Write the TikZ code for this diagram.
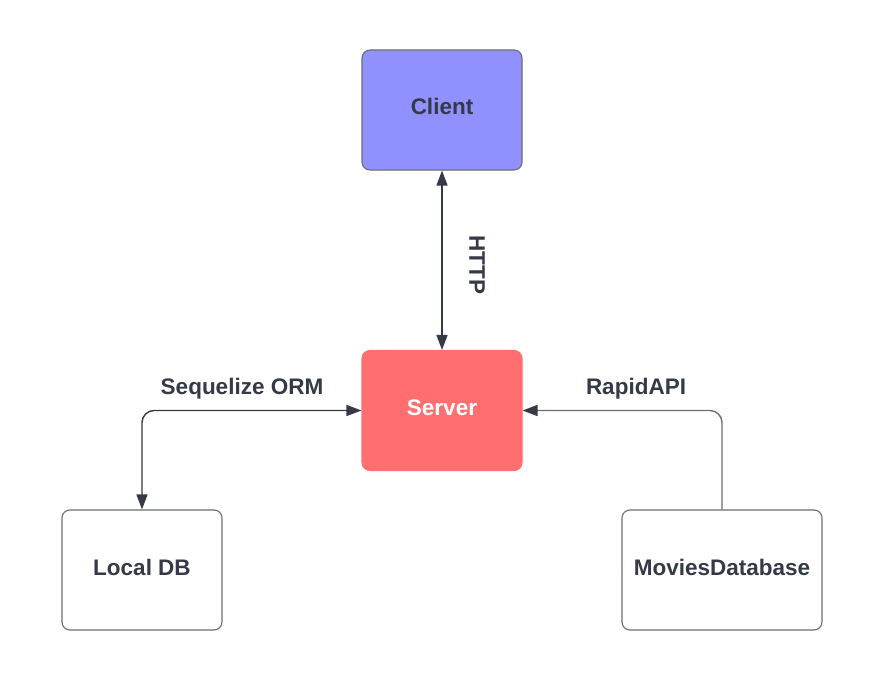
\documentclass[tikz,border=0pt]{standalone}
\usepackage{fontspec}
\setmainfont{Liberation Sans}
\usetikzlibrary{arrows.meta}
\definecolor{ink}{HTML}{343A46}
\definecolor{edge}{HTML}{6A6E78}
\definecolor{clientfill}{HTML}{9090FF}
\definecolor{serverfill}{HTML}{FF6F6F}
\begin{document}
\begin{tikzpicture}[x=1pt,y=-1pt,
  tip/.tip={Triangle[length=15pt,width=11pt,color=ink]},
  box/.style={draw=edge, line width=1.1pt, rounded corners=8pt,
    minimum width=160pt, minimum height=120pt, inner sep=0pt,
    font=\fontsize{22.5}{27}\selectfont\bfseries, text=ink},
  boxlabel/.style={font=\fontsize{22.5}{27}\selectfont\bfseries, text=ink, inner sep=0pt},
  link/.style={draw=ink, line width=1.4pt, arrows={tip-tip}},
  onelink/.style={draw=edge, line width=1.4pt, -tip},
  tag/.style={font=\fontsize{22.5}{27}\selectfont\bfseries, text=ink, inner sep=0pt}]
  \useasboundingbox (0,0) rectangle (878,685);
  \fill[white] (0,0) rectangle (878,685);

  % the four boxes, labels placed a little above centre
  \node[box, fill=clientfill] (client) at (442,110) {};
  \node[boxlabel] (clientlabel) at (442,106.5) {Client};
  \node[box, fill=serverfill, draw=serverfill] (server) at (442,410.5) {};
  \node[boxlabel, text=white] (serverlabel) at (442,407.5) {Server};
  \node[box, fill=white] (local) at (142,570) {};
  \node[boxlabel] (locallabel) at (142,567) {Local DB};
  \node[box, fill=white, minimum width=200pt] (movies) at (722,570) {};
  \node[boxlabel] (movieslabel) at (722,567) {MoviesDatabase};

  % HTTP between client and server
  \draw[link] (client.south) -- (server.north);
  \node[tag, rotate=-90] (http) at (477,265) {HTTP};

  % ORM link to the local database
  \coordinate (ormbend) at (142,410.5);
  \draw[link, rounded corners=12pt] (local.north) -- (ormbend) -- (server.west);
  \node[tag] (orm) at (242,389) {Sequelize ORM};

  % external API feeding the server
  \coordinate (apibend) at (722,410.5);
  \draw[onelink, rounded corners=12pt] (movies.north) -- (apibend) -- (server.east);
  \node[tag] (api) at (636,389) {RapidAPI};
\end{tikzpicture}
\end{document}
